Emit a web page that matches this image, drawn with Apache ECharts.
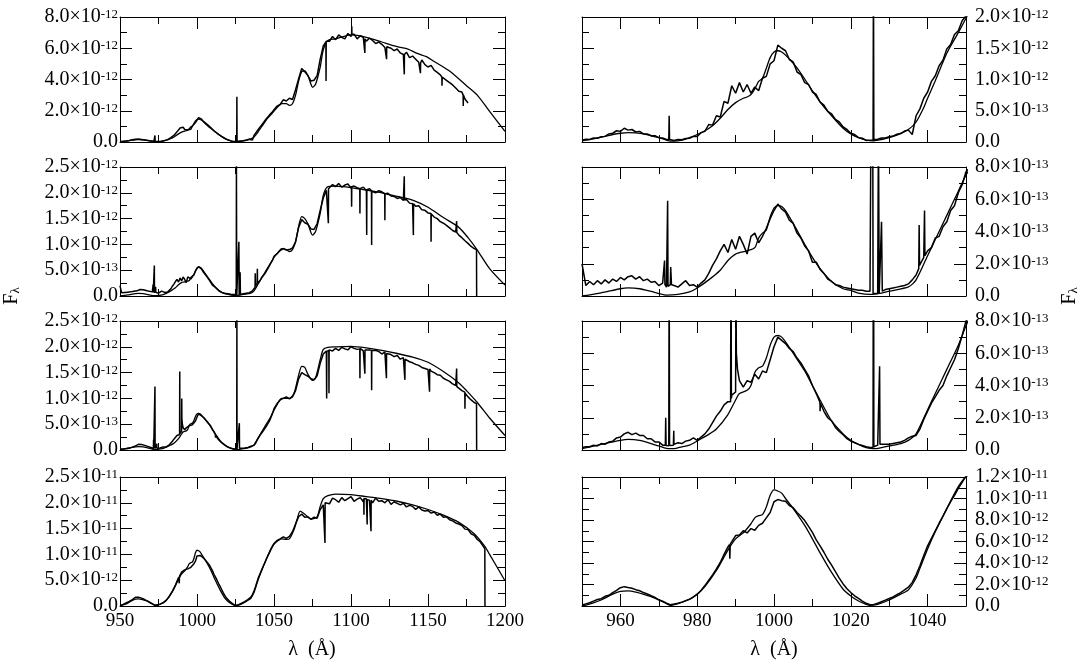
<!DOCTYPE html>
<html>
<head>
<meta charset="utf-8">
<script src="https://cdn.jsdelivr.net/npm/echarts@6/dist/echarts.min.js"></script>
<style>
html,body{margin:0;padding:0;background:#fff}
#main{width:1082px;height:661px}
</style>
</head>
<body>
<div id="main"></div>
<script>
// flux values in units of 1e-12 (erg/s/cm2/A)
// observed: 950..1050 every 1 A, then every 2 A from 1052, plus narrow features
var obs1Fine = [0.03,0.045,0.04,0.065,0.06,0.085,0.09,0.13,0.14,0.18,
    0.17,0.22,0.19,0.2,0.16,0.17,0.13,0.13,0.1,0.1,
    0.07,0.065,0.04,0.035,0.025,0.04,0.035,0.055,0.06,0.09,
    0.09,0.15,0.17,0.28,0.27,0.42,0.4,0.65,0.62,0.9,
    0.78,0.95,0.8,0.92,0.78,0.88,0.82,1.02,1.05,1.25,
    1.3,1.55,1.5,1.46,1.32,1.28,1.12,1.08,0.95,0.92,
    0.8,0.76,0.64,0.59,0.49,0.45,0.36,0.32,0.24,0.2,
    0.14,0.12,0.07,0.06,0.025,0.03,0.04,0.045,0.065,0.065,
    0.085,0.095,0.125,0.135,0.175,0.19,0.12,0.42,0.53,0.7,
    0.8,0.97,1.06,1.22,1.31,1.49,1.56,1.72,1.78,1.94,
    2.02];
var obs1Coarse = [2.3,2.4,2.7,2.62,2.8,2.72,3.35,4.05,4.7,4.5,
    4.25,3.9,3.95,4.25,5.3,6.15,6.55,6.45,6.75,
    6.55,6.85,6.7,6.6,6.95,6.75,6.9,6.6,6.8,6.7,
    6.45,6.65,6.5,6.3,6.4,6.25,6.05,6.2,6.0,5.85,
    5.95,5.7,5.6,5.75,5.4,5.5,5.3,5.1,5.25,4.95,
    4.8,4.9,4.6,4.45,4.3,4.15,3.95,3.8,3.65,3.45,
    3.25,3.2,2.75,2.5];
var obs1Lines = [[972.6,0.04],[972.7,0.42],[972.8,0.04],[1025.8,0.03],[1025.9,2.9],[1026.0,0.04],
    [1083.7,6.4],[1083.8,3.9],[1083.9,6.45],[1100.4,6.9],[1100.5,7.4],[1100.6,6.9],
    [1108.9,6.6],[1109,5.7],[1109.1,6.6],[1123,6.1],[1123.1,5.3],[1123.2,6.1],
    [1134.5,5.6],[1134.6,4.33],[1134.7,5.6],[1145,5.05],[1145.1,4.4],[1145.2,5.05],
    [1159,4.15],[1159.1,3.6],[1159.2,4.15],[1172.8,3.0],[1172.9,2.3],[1173,3.0]];
var model1 = [[950,0.02],[953,0.05],[956,0.09],[958,0.12],[960,0.14],[962,0.15],[964,0.145],[966,0.13],
    [968,0.1],[970,0.07],[972,0.03],[973,0.015],[974,0.015],[976,0.03],[978,0.07],[980,0.12],[982,0.18],
    [984,0.26],[986,0.38],[988,0.52],[990,0.63],[992,0.7],[993,0.72],[994,0.76],[995,0.85],[996,0.97],
    [997,1.02],[998,1.18],[999,1.35],[1000,1.44],[1001,1.46],[1002,1.44],[1003,1.39],[1005,1.26],[1007,1.1],
    [1010,0.82],[1012,0.64],[1015,0.42],[1018,0.22],[1020,0.13],[1022,0.07],[1024,0.03],[1026,0.02],
    [1028,0.04],[1030,0.07],[1032,0.11],[1035,0.2],[1037,0.32],[1039,0.55],[1040,0.7],[1042,0.98],
    [1045,1.42],[1048,1.75],[1050,1.98],[1052,2.2],[1055,2.45],[1058,2.45],[1060,2.35],[1062,2.45],
    [1064,3.0],[1066,3.9],[1068,4.5],[1070,4.55],[1072,4.25],[1074,3.7],[1075,3.5],[1077,3.7],[1080,4.8],
    [1082,5.9],[1085,6.5],[1090,6.6],[1100,6.85],[1110,6.7],[1120,6.4],[1130,6.1],[1137,5.95],[1143,5.67],
    [1149,5.46],[1154,5.15],[1164,4.54],[1175,3.6],[1182,3.0],[1190,1.96],[1200,0.68]];

var obs2Fine = [0.2,0.065,0.09,0.07,0.095,0.075,0.1,0.08,0.105,0.09,
    0.115,0.1,0.12,0.125,0.105,0.12,0.095,0.105,0.085,0.09,
    0.065,0.08,0.055,0.07,0.065,0.055,0.075,0.095,0.065,0.07,
    0.055,0.08,0.1,0.14,0.19,0.23,0.28,0.32,0.27,0.35,
    0.29,0.37,0.32,0.26,0.37,0.39,0.33,0.37,0.42,0.48,
    0.53,0.57,0.54,0.52,0.47,0.45,0.39,0.36,0.31,0.28,
    0.21,0.21,0.165,0.14,0.105,0.09,0.07,0.065,0.055,0.05,
    0.045,0.04,0.035,0.035,0.03,0.03,0.015,0.015,0.02,0.04,
    0.045,0.05,0.055,0.06,0.065,0.075,0.1,0.13,0.2,0.24,
    0.28,0.3,0.36,0.37,0.43,0.46,0.53,0.56,0.64,0.69,
    0.77];
var obs2Coarse = [0.82,0.88,0.92,0.89,0.9,0.93,1.05,1.33,1.48,1.42,
    1.39,1.3,1.29,1.4,1.66,1.9,2.05,2.1,2.16,2.12,
    2.18,2.11,2.15,2.17,2.09,2.13,2.1,2.06,2.11,2.04,
    2.08,2.05,2.0,2.04,2.02,1.96,1.99,1.94,1.93,1.89,
    1.91,1.85,1.87,1.8,1.79,1.74,1.75,1.67,1.66,1.61,
    1.58,1.53,1.5,1.44,1.41,1.37,1.32,1.27,1.24,1.18,
    1.13,1.07,1.02,0.96,0.92];
var obs2Lines = [[971.4,0.075],[971.5,0.22],[971.6,0.07],[972.2,0.06],[972.3,0.59],[972.4,0.06],
    [973.1,0.18],[973.3,0.07],[1025.5,0.03],[1025.6,2.6],[1025.8,0.015],[1027.1,0.015],[1027.2,1.05],
    [1027.4,0.015],[1027.9,0.02],[1028.0,0.46],[1028.2,0.03],[1037.7,0.17],[1037.8,0.44],[1037.9,0.19],
    [1039.1,0.24],[1039.2,0.53],[1039.3,0.25],[1085.2,2.07],[1085.3,1.41],[1085.4,2.08],
    [1100.3,2.13],[1100.4,1.73],[1100.5,2.12],[1105.7,2.08],[1105.8,1.6],[1105.9,2.08],
    [1110.1,2.05],[1110.2,1.18],[1110.3,2.06],[1113.3,2.04],[1113.4,0.99],[1113.5,2.03],
    [1121.9,1.98],[1122,1.47],[1122.1,1.98],[1134.5,1.86],[1134.6,2.32],[1134.7,1.86],
    [1140.4,1.8],[1140.5,1.18],[1140.6,1.79],[1151.9,1.6],[1152,1.05],[1152.1,1.59],
    [1168.5,1.24],[1168.6,1.45],[1168.7,1.23],[1181.5,0.9],[1181.6,0]];
var model2 = [[950,0.0],[955,0.02],[960,0.045],[962,0.05],[965,0.045],[968,0.028],[970,0.015],[972,0.005],
    [975,0.01],[978,0.025],[980,0.05],[983,0.1],[986,0.16],[988,0.22],[990,0.26],[993,0.28],[995,0.3],
    [996,0.36],[997,0.39],[998,0.41],[999,0.49],[1000,0.545],[1001,0.56],[1002,0.555],[1003,0.53],
    [1005,0.45],[1008,0.32],[1010,0.24],[1012,0.17],[1015,0.09],[1018,0.045],[1020,0.035],[1022,0.018],
    [1025,0.01],[1028,0.018],[1030,0.03],[1035,0.056],[1037,0.1],[1040,0.25],[1042,0.35],[1045,0.5],
    [1048,0.65],[1050,0.75],[1052,0.82],[1055,0.92],[1058,0.9],[1060,0.86],[1062,0.9],[1064,1.05],
    [1066,1.35],[1068,1.54],[1070,1.5],[1072,1.4],[1075,1.18],[1077,1.25],[1080,1.6],[1082,1.95],
    [1085,2.12],[1090,2.13],[1100,2.1],[1110,2.05],[1120,2.0],[1130,1.93],[1140,1.86],[1150,1.72],
    [1160,1.52],[1170,1.33],[1176,1.13],[1182,0.89],[1190,0.53],[1200,0.21]];

var obs3Fine = [0.015,0.02,0.02,0.03,0.025,0.04,0.035,0.05,0.055,0.075,
    0.08,0.1,0.11,0.095,0.105,0.09,0.09,0.07,0.07,0.05,
    0.05,0.03,0.025,0.03,0.035,0.045,0.04,0.055,0.06,0.075,
    0.06,0.08,0.1,0.13,0.17,0.21,0.24,0.28,0.3,0.34,
    0.36,0.43,0.39,0.43,0.42,0.47,0.44,0.49,0.48,0.56,
    0.64,0.7,0.68,0.66,0.63,0.61,0.57,0.54,0.5,0.46,
    0.4,0.35,0.28,0.24,0.2,0.18,0.14,0.115,0.095,0.07,
    0.055,0.045,0.035,0.028,0.02,0.015,0.02,0.03,0.04,0.035,
    0.035,0.04,0.045,0.05,0.06,0.075,0.085,0.09,0.13,0.19,
    0.24,0.29,0.33,0.37,0.4,0.46,0.51,0.56,0.63,0.71,
    0.8];
var obs3Coarse = [0.9,0.97,1.0,1.03,0.99,1.03,1.15,1.38,1.5,1.46,
    1.43,1.38,1.36,1.44,1.68,1.86,1.92,1.95,1.92,1.97,
    1.93,1.99,1.96,1.94,2.0,1.97,1.95,1.99,1.92,1.96,
    1.94,1.9,1.93,1.91,1.86,1.9,1.84,1.85,1.81,1.83,
    1.76,1.79,1.73,1.71,1.69,1.66,1.64,1.6,1.58,1.56,
    1.53,1.5,1.46,1.45,1.39,1.36,1.33,1.28,1.25,1.2,
    1.15,1.09,1.03,0.97,0.92];
var obs3Lines = [[971.7,0.03],[971.8,0.2],[971.9,0.028],[972.6,0.026],[972.7,1.23],[972.8,0.028],
    [973.8,0.03],[973.9,0.12],[973.95,0.035],[988.7,0.3],[988.8,1.52],[988.9,0.32],
    [990.0,0.36],[990.1,1.0],[990.2,0.6],[990.5,0.5],[1011.9,0.3],[1012,0.24],[1012.1,0.29],
    [1025.8,0.017],[1025.9,2.6],[1026.0,0.02],[1027.4,0.03],[1027.5,0.52],[1027.6,0.035],
    [1084.1,1.9],[1084.2,1.0],[1084.3,1.91],[1085.6,1.93],[1085.7,1.1],[1085.8,1.94],
    [1105.7,1.96],[1105.8,1.39],[1105.9,1.97],[1108.9,1.93],[1109,1.48],[1109.1,1.94],
    [1113.3,1.93],[1113.4,1.16],[1113.5,1.93],[1122.9,1.88],[1123,1.39],[1123.1,1.87],
    [1134.9,1.76],[1135,1.36],[1135.1,1.76],[1150.9,1.58],[1151,1.13],[1151.1,1.57],
    [1168.5,1.23],[1168.6,1.58],[1168.7,1.23],[1173.9,1.12],[1174,0.8],[1174.1,1.1],
    [1181.5,0.9],[1181.6,0]];
var model3 = [[950,0.008],[955,0.035],[960,0.06],[962,0.066],[965,0.06],[968,0.04],[970,0.025],[972,0.01],
    [974,0.008],[976,0.02],[978,0.03],[980,0.056],[983,0.097],[985,0.13],[988,0.22],[990,0.31],[991,0.35],
    [993,0.37],[994,0.4],[995,0.48],[996,0.51],[997,0.52],[998,0.57],[999,0.65],[1000,0.7],[1001,0.71],
    [1002,0.7],[1003,0.67],[1005,0.6],[1008,0.49],[1010,0.4],[1012,0.31],[1015,0.18],[1018,0.1],[1020,0.06],
    [1022,0.035],[1024,0.015],[1026,0.008],[1028,0.015],[1030,0.025],[1033,0.04],[1035,0.06],[1037,0.1],
    [1040,0.25],[1042,0.35],[1045,0.5],[1048,0.65],[1050,0.77],[1052,0.88],[1055,1.0],[1060,1.0],
    [1063,1.1],[1066,1.45],[1068,1.62],[1070,1.6],[1072,1.47],[1075,1.35],[1077,1.4],[1080,1.75],
    [1082,1.95],[1085,1.99],[1090,2.0],[1100,2.01],[1110,1.98],[1120,1.93],[1130,1.87],[1140,1.8],
    [1150,1.7],[1160,1.52],[1170,1.3],[1175,1.15],[1182,0.92],[1190,0.62],[1200,0.28]];

var obs4Fine = [0.1,0.2,0.3,0.45,0.6,0.68,0.9,1.0,1.25,1.45,
    1.7,1.8,1.72,1.65,1.52,1.42,1.25,1.12,0.95,0.8,
    0.58,0.45,0.26,0.12,0.18,0.25,0.36,0.5,0.62,0.85,
    1.1,1.45,1.9,2.4,2.9,3.45,4.05,4.8,5.5,5.9,
    6.55,6.6,7.0,6.8,7.2,7.05,7.5,7.7,8.2,8.7,
    9.7,9.9,9.8,9.75,9.35,9.15,8.7,8.35,7.95,7.4,
    6.85,6.15,5.6,5.0,4.35,3.8,3.2,2.6,2.05,1.6,
    1.25,0.95,0.7,0.45,0.25,0.12,0.15,0.25,0.4,0.55,
    0.7,0.85,1.05,1.25,1.5,1.75,2.2,2.9,3.75,4.7,
    5.6,6.3,7.0,7.7,8.35,9.05,9.7,10.3,10.95,11.5,
    12.1];
var obs4Coarse = [12.7,13.0,13.4,13.1,13.5,14.4,15.9,17.3,17.8,17.2,
    17.3,16.8,17.2,17.0,18.7,19.6,
    20.2,19.8,20.9,20.6,20.1,21.0,20.4,20.8,21.2,20.3,20.7,21.0,
    20.2,20.8,20.5,20.0,20.9,20.3,20.4,20.0,20.6,19.7,20.2,19.9,
    19.6,19.9,19.2,19.5,19.3,18.7,19.2,18.6,18.4,18.5,
    18.0,18.2,17.6,17.8,17.2,17.3,16.7,16.5,16.1,15.9,
    15.6,14.9,14.8,14.0,13.7,12.9,12.4,11.5];
var obs4Lines = [[988.4,5.7],[988.5,4.4],[988.6,5.75],[1083,19.9],[1083.1,12.2],[1083.2,20.0],
    [1108.3,20.8],[1108.4,17.7],[1108.5,20.8],[1110.4,20.5],[1110.5,15.8],[1110.6,20.6],
    [1112.9,20.6],[1113,14.5],[1113.1,20.5],[1186.9,11.1],[1187,0]];
var model4 = [[950,0.0],[953,0.3],[955,0.56],[958,1.1],[960,1.35],[962,1.4],[964,1.3],[966,1.1],[968,0.88],
    [970,0.56],[972,0.22],[973,0.06],[975,0.22],[978,0.63],[980,1.1],[982,1.8],[985,3.3],[988,5.2],
    [990,6.25],[992,6.8],[994,7.65],[995,8.2],[996,8.4],[997,8.5],[998,9.2],[999,10.3],[1000,10.8],
    [1001,10.7],[1002,10.5],[1003,10.0],[1005,9.06],[1008,7.5],[1010,6.25],[1012,4.94],[1015,3.12],
    [1018,1.56],[1020,0.94],[1022,0.47],[1024,0.16],[1025,0.06],[1027,0.16],[1030,0.56],[1033,1.1],
    [1035,1.5],[1037,2.6],[1038,3.5],[1040,5.3],[1042,6.9],[1045,9.06],[1048,11.1],[1050,12.0],
    [1055,13.0],[1058,12.9],[1060,13.0],[1063,14.8],[1065,16.8],[1067,18.4],[1070,17.8],[1073,17.0],
    [1075,16.9],[1078,17.3],[1080,19.3],[1082,20.8],[1085,21.4],[1090,21.7],[1100,21.6],[1110,21.2],
    [1120,20.8],[1130,20.3],[1140,19.6],[1150,18.7],[1160,17.6],[1170,16.2],[1180,14.0],[1187,11.5],
    [1190,10.0],[1200,4.9]];

// tick values
var leftXMajor = [950,1000,1050,1100,1150,1200];
var leftXMinor = [975,1025,1075,1125,1175];
var rightXMajor = [960,980,1000,1020,1040];
var rightXMinor = [950,970,990,1010,1030,1050];
var leftYMax = [8, 2.5, 2.5, 25];
var leftYStep = [2, 0.5, 0.5, 5];
var rightYMax = [2, 0.8, 0.8, 12];
var rightYStep = [0.5, 0.2, 0.2, 2];

var FONT = '"Liberation Serif","Times New Roman",serif';

function gridPts(x0, step, ys) {
    return ys.map(function (y, i) { return [x0 + i * step, y]; });
}
function obsData(fine, coarse, lines) {
    var pts = gridPts(950, 1, fine).concat(gridPts(1052, 2, coarse)).concat(lines);
    pts.sort(function (a, b) { return a[0] - b[0]; });
    return pts;
}
function ticks(max, step, half) {
    var out = [];
    var n = Math.round(max / step);
    for (var i = 0; i <= n; i++) {
        var v = half ? (i + 0.5) * step : i * step;
        if (v <= max + 1e-9) out.push(+v.toFixed(4));
    }
    return out;
}
function everyOther(arr, start) {
    return arr.filter(function (v, i) { return i % 2 === start; });
}
function sci(v) {
    if (Math.abs(v) < 1e-9) return '{z|0.0}';
    var m = v, e = -12;
    while (m >= 9.999) { m /= 10; e++; }
    while (m < 0.9999) { m *= 10; e--; }
    return '{m|' + m.toFixed(1) + '\u00d710}{s|' + e + '}';
}
var richY = {
    z: {fontFamily: FONT, fontSize: 20, lineHeight: 20, color: '#000'},
    m: {fontFamily: FONT, fontSize: 20, lineHeight: 20, color: '#000', verticalAlign: 'bottom', padding: [7, 0, 0, 0]},
    s: {fontFamily: FONT, fontSize: 13, lineHeight: 13, color: '#000', verticalAlign: 'top', padding: [1, 0, 13, 0]}
};

var obsRows = [obsData(obs1Fine, obs1Coarse, obs1Lines), obsData(obs2Fine, obs2Coarse, obs2Lines),
    obsData(obs3Fine, obs3Coarse, obs3Lines), obsData(obs4Fine, obs4Coarse, obs4Lines)];
var modelRows = [model1, model2, model3, model4];
var rowTop = [13, 167, 321, 477];

var grids = [], xAxes = [], yAxes = [], series = [];

// one axis = one set of ticks; labels are split over two axes so none get hidden
function axis(kind, gi, pos, min, max, vals, isMajor, labelVals, labelFmt) {
    var a = {
        type: 'value', gridIndex: gi, position: pos, min: min, max: max,
        splitLine: {show: false},
        axisLine: {show: isMajor, onZero: false, lineStyle: {color: '#000', width: 1}},
        axisTick: {show: true, inside: true, length: isMajor ? 12 : 7, customValues: vals,
            lineStyle: {color: '#000', width: 1}},
        axisLabel: {show: false}
    };
    if (labelVals && labelVals.length) {
        var m = kind === 'x' ? 6 : (pos === 'left' ? 2 : 9);
        a.axisLabel = {show: true, customValues: labelVals, formatter: labelFmt, interval: 0,
            hideOverlap: false, showMinLabel: true, showMaxLabel: true, margin: m,
            fontFamily: FONT, fontSize: 19, color: '#000', rich: richY};
    }
    (kind === 'x' ? xAxes : yAxes).push(a);
    return (kind === 'x' ? xAxes : yAxes).length - 1;
}

for (var r = 0; r < 4; r++) {
    for (var side = 0; side < 2; side++) {
        var gi = grids.length;
        grids.push({left: side ? 582 : 120, top: rowTop[r], width: side ? 384 : 385, height: 129});
        var xmin = 950, xmax = side ? 1050 : 1200;
        var xMaj = side ? rightXMajor : leftXMajor, xMin = side ? rightXMinor : leftXMinor;
        var bottomRow = r === 3;
        var xfmt = function (v) { return String(v); };
        var xi = axis('x', gi, 'bottom', xmin, xmax, xMaj, true, bottomRow ? everyOther(xMaj, 0) : null, xfmt);
        axis('x', gi, 'bottom', xmin, xmax, xMin, false, bottomRow ? everyOther(xMaj, 1) : null, xfmt);
        axis('x', gi, 'top', xmin, xmax, xMaj, true);
        axis('x', gi, 'top', xmin, xmax, xMin, false);
        var ymax = side ? rightYMax[r] : leftYMax[r], ystep = side ? rightYStep[r] : leftYStep[r];
        var yMaj = ticks(ymax, ystep, false), yMin = ticks(ymax, ystep, true);
        var lab = side ? 'right' : 'left', opp = side ? 'left' : 'right';
        var yi = axis('y', gi, lab, 0, ymax, yMaj, true, everyOther(yMaj, 0), sci);
        axis('y', gi, lab, 0, ymax, yMin, false, everyOther(yMaj, 1), sci);
        axis('y', gi, opp, 0, ymax, yMaj, true);
        axis('y', gi, opp, 0, ymax, yMin, false);
        series.push({type: 'line', xAxisIndex: xi, yAxisIndex: yi, data: modelRows[r], showSymbol: false,
            smooth: 0.25, clip: true, lineStyle: {color: '#000', width: 1.3}, animation: false, silent: true});
        series.push({type: 'line', xAxisIndex: xi, yAxisIndex: yi, data: obsRows[r], showSymbol: false,
            clip: true, lineStyle: {color: '#000', width: 1.5}, animation: false, silent: true});
    }
}

var fLambda = {
    f: {fontFamily: FONT, fontSize: 20, lineHeight: 20, verticalAlign: 'top'},
    l: {fontFamily: FONT, fontSize: 13, lineHeight: 13, verticalAlign: 'bottom', padding: [12, 0, 0, 0]}
};

var chart = echarts.init(document.getElementById('main'));
chart.setOption({
    backgroundColor: '#fff',
    animation: false,
    grid: grids,
    xAxis: xAxes,
    yAxis: yAxes,
    series: series,
    graphic: [
        {type: 'text', x: 312, y: 650, style: {text: '\u03bb  (\u00c5)', font: '20px ' + FONT, fill: '#000',
            textAlign: 'center', textVerticalAlign: 'middle'}},
        {type: 'text', x: 774, y: 650, style: {text: '\u03bb  (\u00c5)', font: '20px ' + FONT, fill: '#000',
            textAlign: 'center', textVerticalAlign: 'middle'}},
        {type: 'text', x: 12, y: 296, rotation: Math.PI / 2, style: {text: '{f|F}{l|\u03bb}', fill: '#000',
            textAlign: 'center', textVerticalAlign: 'middle', rich: fLambda}},
        {type: 'text', x: 1070, y: 296, rotation: Math.PI / 2, style: {text: '{f|F}{l|\u03bb}', fill: '#000',
            textAlign: 'center', textVerticalAlign: 'middle', rich: fLambda}}
    ]
});
</script>
</body>
</html>
